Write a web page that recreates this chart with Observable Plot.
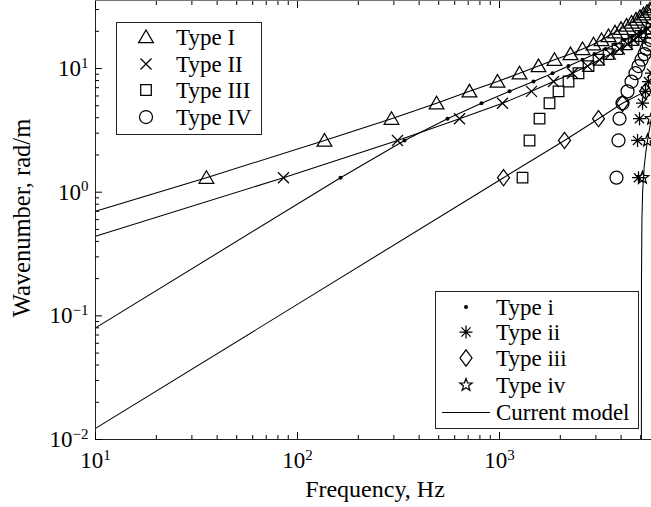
<!DOCTYPE html>
<html><head><meta charset="utf-8">
<script src="https://cdn.jsdelivr.net/npm/d3@7"></script>
<script src="https://cdn.jsdelivr.net/npm/@observablehq/plot@0.6"></script>
<style>
html,body{margin:0;padding:0;background:#fff;}
#chart{width:651px;height:507px;overflow:hidden;}
</style>
</head><body><div id="chart"></div>
<script>
// ---- data (frequency in Hz, wavenumber in rad/m) ----
const kLevels = [1.31, 2.62, 3.93, 5.24, 6.54, 7.85, 9.16, 10.47, 11.78, 13.09, 14.40, 15.71,
  17.02, 18.33, 19.63, 20.94, 22.25, 23.56, 24.87, 26.18, 27.49, 28.80, 30.10, 31.42];

const typeI_f   = [35.4, 136, 292, 488, 710, 977, 1256, 1560, 1871, 2246, 2576, 2920, 3199, 3464, 3731, 3996, 4254, 4503, 4739, 4960, 5163, 5373, 5559, 5754];
const typeII_f  = [85.2, 312.6, 634, 1035, 1440, 1851, 2298, 2727, 3126, 3543, 3927, 4302, 4607, 4876, 5163, 5403, 5655];
const typeIII_f = [1300, 1408, 1578, 1768, 1960, 2196, 2460, 2758, 3092, 3464, 3838, 4254, 4607, 4989, 5342, 5655];
const typeIV_f  = [3795, 3882, 3927, 4064, 4302, 4503, 4713, 4876, 5047, 5222, 5342, 5465, 5590];
const typei_f   = [163.3, 338.6, 552.7, 814.6, 1121, 1473, 1830, 2196, 2576, 2954, 3347, 3752, 4157, 4554, 4933, 5282, 5655];
const typeii_f  = [4876, 4823, 4933, 5104, 5282, 5465, 5655];
const typeiii_f = [1047, 2098, 3092, 4064, 5282];
const typeiv_f  = [5104, 5403, 5655];

// model lines: low-frequency start points (at 10 Hz), then through the markers
const startI_k = 0.70, startII_k = 0.44, starti_k = 0.080, startiii_k = 0.0123;
const modeliv_f = [5040, 5045, 5070, 5110, 5200, 5300, 5403, 5590, 5700];
const modeliv_k = [0.0095, 0.2, 0.6, 1.0, 1.6, 2.1, 2.63, 3.6, 4.2];

const xMajor = [10, 100, 1000];
const xMinor = [20,30,40,50,60,70,80,90,200,300,400,500,600,700,800,900,2000,3000,4000,5000];
const yMajor = [0.01, 0.1, 1, 10];
const yMinor = [0.02,0.03,0.04,0.05,0.06,0.07,0.08,0.09,0.2,0.3,0.4,0.5,0.6,0.7,0.8,0.9,2,3,4,5,6,7,8,9,20,30];

const legend1 = ["Type I", "Type II", "Type III", "Type IV"];
const legend2 = ["Type i", "Type ii", "Type iii", "Type iv", "Current model"];

// ---- marker shapes (MATLAB-like) ----
const R = s => Math.sqrt(s / Math.PI);
const symTri = {draw(c, s){const r=R(s); c.moveTo(0,-r); c.lineTo(r*1.05,r*0.8); c.lineTo(-r*1.05,r*0.8); c.closePath();}};
const symTimes = {draw(c, s){const r=R(s); c.moveTo(-r,-r); c.lineTo(r,r); c.moveTo(-r,r); c.lineTo(r,-r);}};
const symSquare = {draw(c, s){const r=R(s); c.moveTo(-r,-r); c.lineTo(r,-r); c.lineTo(r,r); c.lineTo(-r,r); c.closePath();}};
const symCircle = {draw(c, s){const r=R(s); c.moveTo(r,0); c.arc(0,0,r,0,2*Math.PI);}};
const symDiamond = {draw(c, s){const r=R(s); c.moveTo(0,-1.35*r); c.lineTo(r,0); c.lineTo(0,1.35*r); c.lineTo(-r,0); c.closePath();}};
const symAst = {draw(c, s){const r=R(s), q=r*0.7071; c.moveTo(0,-r); c.lineTo(0,r); c.moveTo(-r,0); c.lineTo(r,0); c.moveTo(-q,-q); c.lineTo(q,q); c.moveTo(-q,q); c.lineTo(q,-q);}};
const symStar = {draw(c, s){const r=R(s), ri=r*0.42; for(let i=0;i<10;i++){const a=-Math.PI/2+i*Math.PI/5, rr=i%2?ri:r; const x=rr*Math.cos(a), y=rr*Math.sin(a); i?c.lineTo(x,y):c.moveTo(x,y);} c.closePath();}};

const pts = (fs) => fs.map((f, i) => ({f, k: kLevels[i]}));
const withStart = (k0, fs) => [{f: 10, k: k0}, ...pts(fs)];
const modeliv = modeliv_f.map((f, i) => ({f, k: modeliv_k[i]}));

const FONT = "Liberation Serif";
const mk = {stroke: "black", fill: "none", strokeWidth: 1.25};
const lineOpt = {x: "f", y: "k", stroke: "black", strokeWidth: 1.05, clip: true};
const fmt = d => "10^" + Math.round(Math.log10(d));

const plot = Plot.plot({
  width: 651, height: 507,
  marginLeft: 95, marginRight: 0, marginTop: 0, marginBottom: 68,
  style: {fontFamily: FONT, background: "white", color: "black"},
  x: {type: "log", domain: [10, 5655]},
  y: {type: "log", domain: [0.01, 35.5]},
  marks: [
    // model lines
    Plot.line(withStart(startI_k, typeI_f), lineOpt),
    Plot.line(withStart(startII_k, typeII_f), lineOpt),
    Plot.line(withStart(starti_k, typei_f), lineOpt),
    Plot.line(withStart(startiii_k, typeiii_f), lineOpt),
    Plot.line(modeliv, lineOpt),
    // markers
    Plot.dot(pts(typeIII_f), {x: "f", y: "k", symbol: symSquare, r: 5.3, ...mk}),
    Plot.dot(pts(typeIV_f), {x: "f", y: "k", symbol: symCircle, r: 6.5, ...mk}),
    Plot.dot(pts(typeiii_f), {x: "f", y: "k", symbol: symDiamond, r: 6, ...mk}),
    Plot.dot(pts(typeii_f), {x: "f", y: "k", symbol: symAst, r: 6.5, ...mk}),
    Plot.dot(pts(typeiv_f), {x: "f", y: "k", symbol: symStar, r: 6.5, ...mk}),
    Plot.dot(pts(typeII_f), {x: "f", y: "k", symbol: symTimes, r: 5.5, ...mk}),
    Plot.dot(pts(typeI_f), {x: "f", y: "k", symbol: symTri, r: 7, ...mk}),
    Plot.dot(pts(typei_f), {x: "f", y: "k", r: 2, fill: "black", stroke: "none"}),
    // frame
    Plot.ruleX([10], {stroke: "#222"}),
    Plot.ruleY([0.01], {stroke: "#222"}),
    Plot.ruleY([35.5], {stroke: "#777"}),
    // inward ticks
    Plot.axisX(xMajor, {anchor: "bottom", tickSize: 7, dy: -7, tickFormat: () => "", label: null}),
    Plot.axisX(xMinor, {anchor: "bottom", tickSize: 4, dy: -4, tickFormat: () => "", label: null}),
    Plot.axisX(xMajor, {anchor: "top", tickSize: 7, dy: 7, tickFormat: () => "", label: null}),
    Plot.axisX(xMinor, {anchor: "top", tickSize: 4, dy: 4, tickFormat: () => "", label: null}),
    Plot.axisY(yMajor, {anchor: "left", tickSize: 7, dx: 7, tickFormat: () => "", label: null}),
    Plot.axisY(yMinor, {anchor: "left", tickSize: 4, dx: 4, tickFormat: () => "", label: null}),
    // tick labels
    Plot.axisX(xMajor, {anchor: "bottom", tickSize: 0, tickPadding: 12, tickFormat: fmt, fontSize: 23, label: null}),
    Plot.axisY(yMajor, {anchor: "left", tickSize: 0, tickPadding: 7, tickFormat: fmt, fontSize: 23, label: null})
  ]
});

document.getElementById("chart").appendChild(plot);
const svg = d3.select(plot);

// superscript exponents
svg.selectAll("text").each(function(){
  const t = d3.select(this); const s = t.text();
  if (!/^10\^/.test(s)) return;
  const e = s.split("^")[1].replace("-", "\u2212");
  t.text(null);
  t.append("tspan").text("10");
  t.append("tspan").attr("dy", "-0.55em").attr("font-size", "15px").text(e);
});

// axis titles
svg.append("text").attr("x", 375).attr("y", 497).attr("text-anchor", "middle")
  .attr("font-family", FONT).attr("font-size", 24).attr("fill", "black").text("Frequency, Hz");
svg.append("text").attr("transform", "translate(30,218) rotate(-90)").attr("text-anchor", "middle")
  .attr("font-family", FONT).attr("font-size", 24.5).attr("fill", "black").text("Wavenumber, rad/m");

// legends
function drawMarker(g, sym, r, x, y, filled){
  g.append("path").attr("transform", `translate(${x},${y})`)
    .attr("d", d3.symbol(sym, Math.PI * r * r)())
    .attr("fill", filled ? "black" : "none").attr("stroke", filled ? "none" : "black").attr("stroke-width", 1.25);
}
function legendBox(x, y, w, h){
  const g = svg.append("g");
  g.append("rect").attr("x", x + 0.5).attr("y", y + 0.5).attr("width", w).attr("height", h)
    .attr("fill", "white").attr("stroke", "#222").attr("stroke-width", 1);
  return g;
}
function legendText(g, x, y, t){
  g.append("text").attr("x", x).attr("y", y).attr("dy", "0.34em").attr("text-anchor", "start")
    .attr("font-family", FONT).attr("font-size", 23).attr("fill", "black").text(t);
}
const g1 = legendBox(116, 22, 145, 112);
const syms1 = [[symTri, 7], [symTimes, 5.5], [symSquare, 5.3], [symCircle, 6.5]];
const rows1 = [37, 64, 90, 117];
legend1.forEach((t, i) => {
  drawMarker(g1, syms1[i][0], syms1[i][1], 146, rows1[i], false);
  legendText(g1, 176, rows1[i], t);
});
const g2 = legendBox(435, 291, 203, 137);
const rows2 = [307, 332, 358, 385, 412];
const syms2 = [[symCircle, 2, true], [symAst, 6.5], [symDiamond, 6], [symStar, 6.5]];
legend2.forEach((t, i) => {
  if (i < 4) drawMarker(g2, syms2[i][0], syms2[i][1], 466, rows2[i], syms2[i][2]);
  else g2.append("line").attr("x1", 442).attr("x2", 490).attr("y1", rows2[i] + 0.5).attr("y2", rows2[i] + 0.5)
    .attr("stroke", "black").attr("stroke-width", 1);
  legendText(g2, 496, rows2[i], t);
});
</script>
</body></html>
